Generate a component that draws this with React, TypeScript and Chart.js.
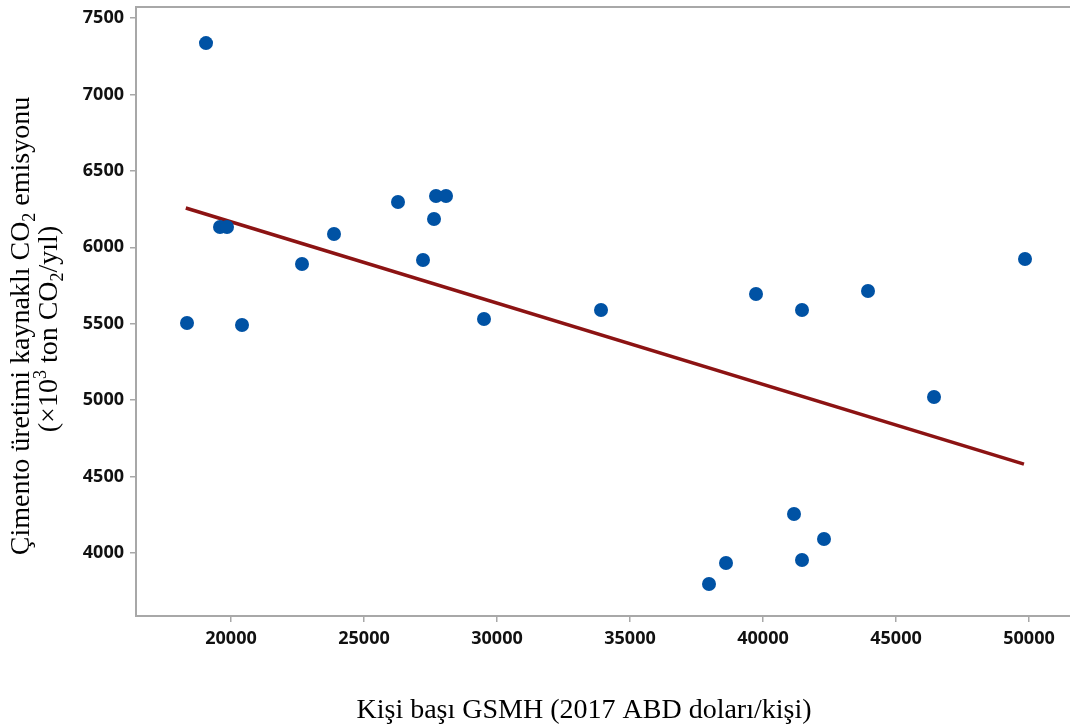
import React, { useEffect, useRef } from 'react';
import { Chart, registerables } from 'chart.js';

Chart.register(...registerables);

// GDP per capita (2017 USD/person)
const gdpPerCapita = [
  18346, 19060, 19586, 19850, 20414, 22669, 23872, 26278, 27218, 27632, 27707, 28083,
  29511, 33910, 37970, 38609, 39737, 41165, 41466, 41466, 42293, 43947, 46429, 49850,
];
// Cement-production CO2 emissions (10^3 t CO2/yr)
const cementCO2 = [
  5505, 7336, 6133, 6133, 5492, 5891, 6087, 6296, 5917, 6185, 6336, 6336,
  5531, 5590, 3797, 3935, 5694, 4255, 5590, 3954, 4092, 5714, 5021, 5923,
];
// Trend line end points
const trendX = [18300, 49810];
const trendY = [6257, 4582];

const xTicks = [20000, 25000, 30000, 35000, 40000, 45000, 50000];
const yTicks = [4000, 4500, 5000, 5500, 6000, 6500, 7000, 7500];

const xTitle = 'Kişi başı GSMH (2017 ABD doları/kişi)';
type Seg = { t: string; sub?: boolean; sup?: boolean };
const yTitleLine1: Seg[] = [
  { t: 'Çimento üretimi kaynaklı CO' },
  { t: '2', sub: true },
  { t: ' emisyonu' },
];
const yTitleLine2: Seg[] = [
  { t: '(×10' },
  { t: '3', sup: true },
  { t: ' ton CO' },
  { t: '2', sub: true },
  { t: '/yıl)' },
];

const AXIS_GREY = '#a8a8a8';
const SERIF = '"Liberation Serif", "Times New Roman", serif';

function drawRich(ctx: CanvasRenderingContext2D, segs: Seg[], cx: number, cy: number, baseline: number) {
  const main = `28px ${SERIF}`;
  const small = `18px ${SERIF}`;
  let total = 0;
  for (const s of segs) {
    ctx.font = s.sub || s.sup ? small : main;
    total += ctx.measureText(s.t).width;
  }
  ctx.save();
  ctx.translate(cx, cy);
  ctx.rotate(-Math.PI / 2);
  ctx.textAlign = 'left';
  ctx.textBaseline = 'alphabetic';
  let x = -total / 2;
  for (const s of segs) {
    ctx.font = s.sub || s.sup ? small : main;
    const dy = s.sub ? 6 : s.sup ? -11 : 0;
    ctx.fillText(s.t, x, baseline + dy);
    x += ctx.measureText(s.t).width;
  }
  ctx.restore();
}

const titlesPlugin = {
  id: 'titlesPlugin',
  beforeDatasetsDraw(chart: any) {
    const { ctx, chartArea } = chart;
    ctx.save();
    ctx.strokeStyle = AXIS_GREY;
    ctx.lineWidth = 2;
    ctx.beginPath();
    ctx.moveTo(chartArea.left - 1, chartArea.top);
    ctx.lineTo(chartArea.right, chartArea.top);
    ctx.stroke();
    ctx.restore();
  },
  afterDraw(chart: any) {
    const { ctx } = chart;
    ctx.save();
    ctx.fillStyle = '#000';
    ctx.font = `28px ${SERIF}`;
    ctx.textAlign = 'center';
    ctx.textBaseline = 'alphabetic';
    ctx.fillText(xTitle, 584, 718);
    drawRich(ctx, yTitleLine1, 0, 326, 29);
    drawRich(ctx, yTitleLine2, 0, 329, 57);
    ctx.restore();
  },
};

export default function App() {
  const ref = useRef<HTMLCanvasElement>(null);
  useEffect(() => {
    document.body.style.margin = '0';
    if (!ref.current) return;
    const tickFont = { family: '"Open Sans", "Noto Sans", sans-serif', size: 18, weight: '700' as any };
    const chart = new Chart(ref.current, {
      type: 'scatter',
      data: {
        datasets: [
          {
            type: 'scatter',
            data: gdpPerCapita.map((x, i) => ({ x, y: cementCO2[i] })),
            pointRadius: 7,
            pointHoverRadius: 7,
            backgroundColor: '#0052a4',
            borderWidth: 0,
          },
          {
            type: 'line',
            data: trendX.map((x, i) => ({ x, y: trendY[i] })),
            borderColor: '#8c1313',
            borderWidth: 3.5,
            pointRadius: 0,
            fill: false,
            tension: 0,
          } as any,
        ],
      },
      options: {
        animation: false,
        responsive: false,
        devicePixelRatio: 1,
        layout: { autoPadding: false, padding: { top: 7, right: 0, bottom: 0, left: 0 } },
        plugins: { legend: { display: false }, tooltip: { enabled: false } },
        scales: {
          x: {
            type: 'linear',
            min: 16428,
            max: 51541,
            afterBuildTicks: (s: any) => {
              s.ticks = xTicks.map((v) => ({ value: v }));
            },
            afterFit: (s: any) => {
              s.height = 110;
              s.paddingLeft = 0;
              s.paddingRight = 0;
            },
            grid: { drawOnChartArea: false, drawTicks: true, tickLength: 6, color: AXIS_GREY, lineWidth: 1.5 },
            border: { display: true, color: AXIS_GREY, width: 2 },
            ticks: { font: tickFont, color: '#111', padding: 6, maxRotation: 0, autoSkip: false, callback: (v: any) => String(v) },
          },
          y: {
            type: 'linear',
            min: 3588,
            max: 7572,
            afterBuildTicks: (s: any) => {
              s.ticks = yTicks.map((v) => ({ value: v }));
            },
            afterFit: (s: any) => {
              s.width = 136;
              s.paddingTop = 0;
              s.paddingBottom = 0;
            },
            grid: { drawOnChartArea: false, drawTicks: true, tickLength: 6, color: AXIS_GREY, lineWidth: 1.5 },
            border: { display: true, color: AXIS_GREY, width: 2 },
            ticks: { font: tickFont, color: '#111', padding: 6, autoSkip: false, callback: (v: any) => String(v) },
          },
        },
      },
      plugins: [titlesPlugin],
    });
    return () => chart.destroy();
  }, []);
  return (
    <div style={{ width: 1070, height: 726, position: 'relative', background: '#fff' }}>
      <canvas ref={ref} width={1070} height={726} style={{ display: 'block' }} />
    </div>
  );
}
